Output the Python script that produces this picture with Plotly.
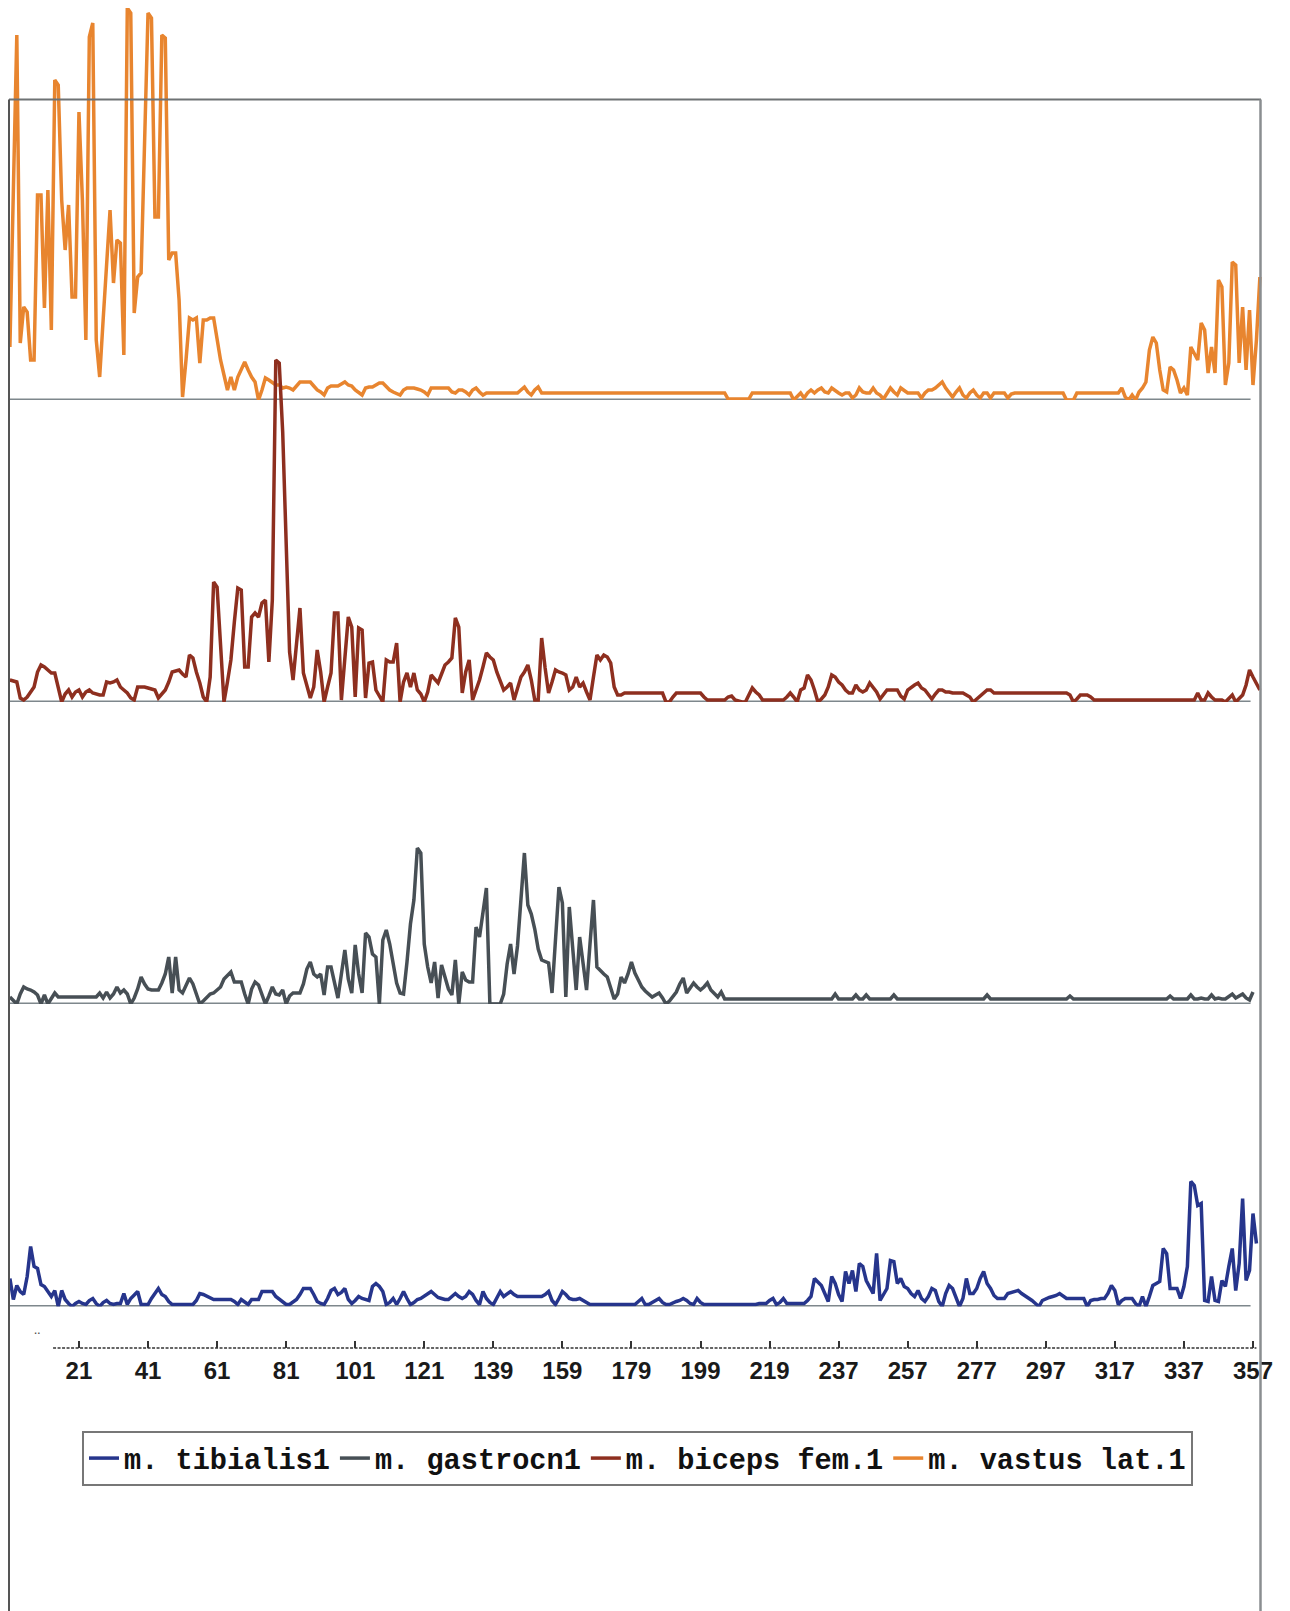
import plotly.graph_objects as go

W, H = 1290, 1611
OFF = 8  # the page body margin shifts the figure by 8 px

# x axis: sample index (categories), labelled every 20 samples
tick_positions = [20, 40, 60, 80, 100, 120, 140, 160, 180, 200, 220, 240, 260, 280, 300, 320, 340, 360]
tick_labels = ["21", "41", "61", "81", "101", "121", "139", "159", "179", "199",
               "219", "237", "257", "277", "297", "317", "337", "357"]

series_names = ["m. vastus lat.1", "m. biceps fem.1", "m. gastrocn1", "m. tibialis1"]
series_colors = ["#E8852F", "#8E2F1F", "#474F55", "#26358C"]

vastus_lat = [
    53, 200, 365, 57, 93, 88, 40, 40, 205, 205,
    92, 210, 70, 320, 315, 200, 150, 195, 103, 103,
    288, 200, 60, 363, 377, 60, 23, 80, 130, 190,
    117, 160, 157, 45, 392, 387, 87, 123, 127, 250,
    387, 382, 183, 183, 365, 362, 140, 147, 147, 100,
    3, 40, 82, 80, 82, 37, 80, 80, 82, 82,
    60, 40, 25, 10, 23, 10, 23, 30, 38, 30,
    23, 18, 0, 10, 22, 20, 17, 15, 15, 12,
    13, 12, 10, 14, 18, 18, 18, 18, 14, 10,
    8, 5, 12, 14, 14, 14, 16, 18, 15, 14,
    10, 7, 5, 12, 13, 13, 15, 17, 17, 13,
    10, 8, 6, 5, 10, 12, 12, 12, 11, 10,
    8, 5, 12, 12, 12, 12, 12, 12, 8, 7,
    10, 10, 8, 5, 10, 12, 8, 5, 7, 7,
    7, 7, 7, 7, 7, 7, 7, 7, 10, 13,
    8, 5, 10, 13, 7, 7, 7, 7, 7, 7,
    7, 7, 7, 7, 7, 7, 7, 7, 7, 7,
    7, 7, 7, 7, 7, 7, 7, 7, 7, 7,
    7, 7, 7, 7, 7, 7, 7, 7, 7, 7,
    7, 7, 7, 7, 7, 7, 7, 7, 7, 7,
    7, 7, 7, 7, 7, 7, 7, 7, 1, 1,
    1, 1, 1, 1, 1, 7, 7, 7, 7, 7,
    7, 7, 7, 7, 7, 7, 7, 0, 3, 7,
    2, 7, 10, 7, 10, 12, 8, 7, 12, 10,
    7, 5, 7, 7, 2, 5, 12, 8, 7, 7,
    12, 7, 5, 1, 7, 12, 8, 5, 12, 10,
    7, 7, 7, 7, 2, 7, 10, 10, 12, 15,
    18, 12, 8, 3, 8, 12, 5, 2, 7, 10,
    5, 2, 7, 7, 2, 7, 7, 7, 7, 2,
    6, 7, 7, 7, 7, 7, 7, 7, 7, 7,
    7, 7, 7, 7, 7, 7, 0, 0, 0, 7,
    7, 7, 7, 7, 7, 7, 7, 7, 7, 7,
    7, 7, 12, 3, 0, 5, 0, 8, 12, 18,
    50, 63, 57, 30, 10, 8, 33, 30, 20, 7,
    12, 5, 53, 47, 40, 77, 70, 27, 53, 27,
    120, 113, 15, 37, 138, 135, 37, 93, 30, 90,
    15, 60, 123,
]

biceps_fem = [
    22, 21, 20, 4, 2, 5, 10, 15, 30, 37,
    35, 32, 29, 29, 15, 0, 8, 12, 5, 10,
    12, 5, 10, 12, 9, 8, 7, 7, 20, 19,
    20, 22, 15, 12, 9, 4, 2, 15, 15, 15,
    14, 13, 12, 4, 8, 12, 20, 30, 31, 32,
    28, 25, 47, 44, 30, 19, 5, 0, 25, 120,
    115, 50, 0, 20, 42, 80, 114, 112, 35, 35,
    85, 89, 85, 99, 102, 40, 102, 342, 339, 270,
    162, 50, 22, 62, 94, 29, 15, 4, 15, 52,
    30, 0, 15, 29, 89, 89, 2, 40, 85, 75,
    5, 74, 72, 4, 39, 40, 12, 6, 0, 42,
    40, 40, 59, 0, 20, 29, 15, 29, 12, 8,
    0, 10, 27, 23, 19, 28, 37, 40, 44, 84,
    75, 9, 30, 42, 2, 12, 22, 35, 49, 45,
    42, 30, 20, 12, 15, 19, 2, 15, 25, 30,
    37, 22, 2, 2, 64, 34, 9, 20, 32, 30,
    29, 27, 12, 15, 25, 15, 19, 10, 2, 25,
    47, 42, 47, 45, 39, 15, 7, 7, 9, 9,
    9, 9, 9, 9, 9, 9, 9, 9, 9, 9,
    0, 0, 5, 9, 9, 9, 9, 9, 9, 9,
    9, 5, 2, 2, 2, 2, 2, 2, 5, 6,
    2, 1, 0, 0, 7, 14, 10, 7, 2, 2,
    2, 2, 2, 2, 2, 5, 9, 5, 0, 12,
    14, 27, 22, 12, 0, 3, 7, 15, 27, 25,
    20, 17, 12, 9, 9, 17, 12, 10, 12, 19,
    15, 10, 3, 8, 12, 12, 12, 12, 6, 3,
    12, 15, 17, 19, 14, 12, 8, 3, 8, 12,
    12, 10, 10, 9, 9, 9, 9, 7, 5, 0,
    3, 7, 10, 12, 12, 9, 9, 9, 9, 9,
    9, 9, 9, 9, 9, 9, 9, 9, 9, 9,
    9, 9, 9, 9, 9, 9, 9, 7, 0, 3,
    7, 7, 7, 5, 2, 2, 2, 2, 2, 2,
    2, 2, 2, 2, 2, 2, 2, 2, 2, 2,
    2, 2, 2, 2, 2, 2, 2, 2, 2, 2,
    2, 2, 2, 2, 9, 2, 2, 9, 5, 2,
    2, 2, 0, 4, 7, 0, 4, 7, 17, 32,
    25, 19, 12,
]

gastrocn = [
    7, 3, 0, 10, 17, 15, 14, 12, 9, 0,
    9, 0, 5, 11, 7, 7, 7, 7, 7, 7,
    7, 7, 7, 7, 7, 7, 11, 6, 12, 6,
    10, 17, 11, 14, 10, 0, 6, 15, 27, 20,
    15, 14, 14, 14, 21, 30, 47, 11, 47, 14,
    11, 18, 26, 20, 10, 0, 3, 7, 10, 11,
    14, 17, 25, 29, 32, 22, 22, 22, 10, 0,
    15, 22, 19, 10, 0, 8, 17, 10, 9, 14,
    0, 8, 11, 11, 11, 20, 35, 42, 30, 27,
    30, 9, 37, 37, 20, 6, 30, 54, 25, 11,
    59, 30, 11, 71, 67, 50, 47, 0, 64, 74,
    60, 40, 21, 11, 10, 42, 80, 104, 156, 151,
    60, 37, 21, 42, 6, 39, 27, 15, 9, 44,
    0, 32, 24, 22, 22, 77, 67, 90, 116, 0,
    0, 0, 0, 10, 40, 60, 30, 58, 110, 151,
    99, 90, 75, 55, 44, 42, 41, 11, 60, 117,
    101, 7, 97, 54, 14, 67, 40, 14, 60, 104,
    37, 33, 30, 27, 15, 5, 10, 27, 21, 30,
    42, 31, 24, 17, 13, 10, 7, 9, 11, 6,
    0, 3, 7, 12, 20, 26, 11, 16, 21, 17,
    14, 17, 21, 14, 10, 7, 12, 5, 5, 5,
    5, 5, 5, 5, 5, 5, 5, 5, 5, 5,
    5, 5, 5, 5, 5, 5, 5, 5, 5, 5,
    5, 5, 5, 5, 5, 5, 5, 5, 5, 10,
    5, 5, 5, 5, 5, 9, 5, 5, 9, 5,
    5, 5, 5, 5, 5, 5, 9, 5, 5, 5,
    5, 5, 5, 5, 5, 5, 5, 5, 5, 5,
    5, 5, 5, 5, 5, 5, 5, 5, 5, 5,
    5, 5, 5, 9, 5, 5, 5, 5, 5, 5,
    5, 5, 5, 5, 5, 5, 5, 5, 5, 5,
    5, 5, 5, 5, 5, 5, 5, 8, 5, 5,
    5, 5, 5, 5, 5, 5, 5, 5, 5, 5,
    5, 5, 5, 5, 5, 5, 5, 5, 5, 5,
    5, 5, 5, 5, 5, 5, 8, 5, 5, 5,
    5, 5, 9, 5, 5, 6, 5, 5, 9, 5,
    6, 5, 5, 7, 10, 6, 8, 10, 6, 4,
    12,
]

tibialis = [
    28, 7, 21, 15, 12, 30, 60, 40, 38, 22,
    20, 15, 10, 16, 0, 16, 7, 3, 0, 3,
    5, 3, 2, 6, 8, 3, 0, 4, 6, 3,
    2, 3, 3, 13, 2, 8, 12, 15, 2, 2,
    2, 8, 13, 18, 12, 10, 5, 2, 2, 2,
    2, 2, 2, 2, 6, 13, 12, 10, 8, 7,
    7, 7, 7, 7, 7, 5, 2, 7, 4, 2,
    7, 7, 7, 15, 15, 15, 15, 10, 7, 4,
    2, 2, 4, 7, 12, 18, 18, 18, 12, 5,
    3, 2, 8, 16, 18, 12, 14, 18, 7, 3,
    6, 10, 8, 7, 6, 20, 23, 20, 15, 2,
    4, 8, 2, 8, 15, 8, 2, 4, 7, 8,
    10, 12, 15, 12, 9, 8, 7, 7, 10, 13,
    10, 8, 10, 15, 12, 6, 2, 15, 8, 4,
    2, 8, 15, 10, 12, 15, 12, 10, 10, 10,
    10, 10, 10, 10, 10, 12, 15, 6, 2, 8,
    15, 12, 8, 7, 7, 8, 6, 4, 2, 2,
    2, 2, 2, 2, 2, 2, 2, 2, 2, 2,
    2, 2, 5, 8, 2, 2, 4, 6, 8, 4,
    2, 2, 4, 5, 6, 8, 6, 3, 2, 8,
    4, 2, 2, 2, 2, 2, 2, 2, 2, 2,
    2, 2, 2, 2, 2, 2, 2, 3, 3, 3,
    6, 8, 2, 4, 8, 3, 3, 3, 3, 3,
    3, 6, 10, 28, 24, 21, 13, 5, 30, 23,
    12, 5, 35, 23, 36, 15, 43, 40, 26, 20,
    13, 53, 6, 12, 18, 46, 45, 23, 28, 20,
    18, 13, 10, 16, 8, 5, 10, 18, 16, 5,
    0, 13, 21, 18, 10, 0, 8, 28, 13, 13,
    18, 28, 35, 23, 18, 11, 8, 8, 8, 13,
    14, 15, 16, 13, 11, 8, 6, 3, 0, 6,
    8, 9, 10, 11, 13, 10, 8, 8, 8, 8,
    8, 8, 0, 6, 7, 7, 8, 8, 13, 21,
    16, 2, 6, 8, 8, 8, 3, 0, 10, 0,
    10, 21, 23, 25, 58, 53, 18, 18, 18, 8,
    20, 40, 125, 121, 101, 103, 6, 5, 30, 6,
    5, 26, 20, 40, 58, 16, 43, 108, 26, 36,
    93, 63,
]

series_values = [vastus_lat, biceps_fem, gastrocn, tibialis]

# layout geometry (page pixels on the 1290x1611 window)
baseline_px = [400, 702, 1004, 1306.5]
px_per_sample = 3.453
first_sample_px = 9.9
x_range = [-(first_sample_px - OFF) / px_per_sample,
           (W - (first_sample_px - OFF)) / px_per_sample]


def py(px):
    return 1 - (px - OFF) / H


def pxx(px):
    return (px - OFF) / W


fig = go.Figure()
axis_ids = ["y", "y2", "y3", "y4"]
for name, vals, color, ya in zip(series_names, series_values, series_colors, axis_ids):
    fig.add_trace(go.Scatter(
        x=list(range(len(vals))), y=vals, name=name, mode="lines",
        line=dict(color=color, width=3.5), xaxis="x", yaxis=ya,
    ))

layout_axes = {}
for i, b in enumerate(baseline_px):
    key = "yaxis" if i == 0 else f"yaxis{i + 1}"
    layout_axes[key] = dict(domain=[py(b), 1], range=[0, b - OFF], visible=False,
                            fixedrange=True, anchor="x")

shapes = []
# baselines
for ya in axis_ids:
    shapes.append(dict(type="line", xref="x", yref=ya, x0=0, x1=359.3, y0=0, y1=0,
                       line=dict(color="#7E878C", width=2.8), layer="below"))
# frame
shapes.append(dict(type="line", xref="paper", yref="paper", x0=pxx(9), x1=pxx(1261),
                   y0=py(99.5), y1=py(99.5), line=dict(color="#6E7274", width=2)))
shapes.append(dict(type="line", xref="paper", yref="paper", x0=pxx(9), x1=pxx(9),
                   y0=py(99.5), y1=0, line=dict(color="#555", width=2)))
shapes.append(dict(type="line", xref="paper", yref="paper", x0=pxx(1260.5), x1=pxx(1260.5),
                   y0=py(99.5), y1=0, line=dict(color="#8A8E90", width=2.5)))
# dashed category axis line
axis_y = py(1348)
shapes.append(dict(type="line", xref="x", yref="paper", x0=12.5, x1=361, y0=axis_y, y1=axis_y,
                   line=dict(color="#333", width=1.6, dash="3px,1.5px")))

fig.update_layout(
    width=W, height=H,
    margin=dict(l=0, r=0, t=0, b=0),
    paper_bgcolor="white", plot_bgcolor="rgba(0,0,0,0)",
    xaxis=dict(domain=[0, 1], range=x_range, anchor="free", position=axis_y,
               showgrid=False, zeroline=False, showline=False,
               tickmode="array", tickvals=tick_positions, ticktext=tick_labels,
               ticks="inside", ticklen=7, tickwidth=1.5, tickcolor="#333",
               ticklabelstandoff=6,
               tickfont=dict(family="Liberation Sans", size=24, color="#1A1A1A", weight=700),
               fixedrange=True, automargin=False),
    shapes=shapes,
    showlegend=True,
    legend=dict(orientation="h", traceorder="reversed",
                x=pxx(82), y=py(1431), xanchor="left", yanchor="top",
                bgcolor="white", bordercolor="#777", borderwidth=2,
                itemwidth=30,
                font=dict(family="Liberation Mono", size=28.6, color="#111", weight=700)),
    annotations=[dict(text="..", x=pxx(32), y=py(1340), xref="paper", yref="paper",
                      showarrow=False, font=dict(size=12, color="#444"))],
    **layout_axes,
)

fig.write_html("out.html", config={"displayModeBar": False})
